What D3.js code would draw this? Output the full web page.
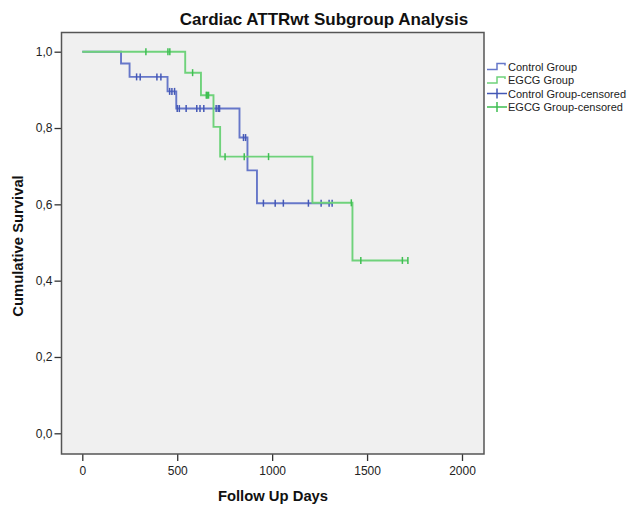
<!DOCTYPE html>
<html>
<head>
<meta charset="utf-8">
<script src="https://cdn.jsdelivr.net/npm/d3@7/dist/d3.min.js"></script>
<style>
  html, body { margin: 0; padding: 0; background: #ffffff; }
  svg { display: block; font-family: "Liberation Sans", Arial, sans-serif; }
</style>
</head>
<body>
<svg id="chart" width="630" height="505"></svg>
<script>
// ---------- data ----------
const title = "Cardiac ATTRwt Subgroup Analysis";
const xTitle = "Follow Up Days";
const yTitle = "Cumulative Survival";
const xTicks = [0, 500, 1000, 1500, 2000];
const yTicks = [0, 0.2, 0.4, 0.6, 0.8, 1.0];
const legendLabels = ["Control Group", "EGCG Group", "Control Group-censored", "EGCG Group-censored"];

// Control group step curve
const controlTimes = [0, 204, 249, 449, 495, 828, 870, 920];
const controlSurv  = [1, 0.969, 0.934, 0.896, 0.851, 0.775, 0.689, 0.603];
const controlEnd = 1316;
const controlCensored = [286, 305, 393, 414, 460, 472, 486, 500, 511, 547, 603, 620, 640, 705, 716, 723, 849, 860, 954, 1016, 1059, 1191, 1258, 1300, 1316];

// EGCG group step curve
const egcgTimes = [0, 542, 625, 691, 726, 1212, 1423];
const egcgSurv  = [1, 0.945, 0.886, 0.803, 0.725, 0.604, 0.453];
const egcgEnd = 1715;
const egcgCensored = [335, 451, 461, 581, 653, 658, 665, 752, 853, 981, 1417, 1467, 1686, 1715];

// ---------- layout ----------
const svg = d3.select("#chart");
const frame = {left: 61.5, right: 484, top: 32.5, bottom: 454};
const x = d3.scaleLinear().domain([0, 2000]).range([82.3, 462]);
const y = d3.scaleLinear().domain([0, 1]).range([433.3, 51.7]);

const colBlueLine = "#6677c9", colBlueMark = "#4458b6";
const colGreenLine = "#6fd27b", colGreenMark = "#3fbf52";

// title
svg.append("text").attr("x", 324).attr("y", 25).attr("text-anchor", "middle")
  .attr("font-size", 17).attr("font-weight", "bold").attr("fill", "#111").text(title);

// plot background
svg.append("rect").attr("x", frame.left).attr("y", frame.top)
  .attr("width", frame.right - frame.left).attr("height", frame.bottom - frame.top)
  .attr("fill", "#f0f0f0");

// axes
const xAxis = d3.axisBottom(x).tickValues(xTicks).tickSize(7).tickSizeOuter(0).tickFormat(d3.format("d"));
const gx = svg.append("g").attr("transform", `translate(0,${frame.bottom})`).call(xAxis);
gx.select(".domain").remove();
gx.selectAll("line").attr("stroke", "#333").attr("stroke-width", 1.3);
gx.selectAll("text").attr("font-size", 12).attr("fill", "#222").attr("dy", "0.9em")
  .attr("font-family", "Liberation Sans, Arial, sans-serif");

const yAxis = d3.axisLeft(y).tickValues(yTicks).tickSize(7).tickSizeOuter(0)
  .tickFormat(d => d3.format(".1f")(d).replace(".", ","));
const gy = svg.append("g").attr("transform", `translate(${frame.left},0)`).call(yAxis);
gy.select(".domain").remove();
gy.selectAll("line").attr("stroke", "#333").attr("stroke-width", 1.3);
gy.selectAll("text").attr("font-size", 12).attr("fill", "#222").attr("x", -9)
  .attr("font-family", "Liberation Sans, Arial, sans-serif");

// axis titles
svg.append("text").attr("x", 273).attr("y", 501).attr("text-anchor", "middle")
  .attr("font-size", 14.8).attr("font-weight", "bold").attr("fill", "#111").text(xTitle);
svg.append("text").attr("transform", "translate(23,246) rotate(-90)").attr("text-anchor", "middle")
  .attr("font-size", 14.8).attr("font-weight", "bold").attr("fill", "#111").text(yTitle);

// step curves
function stepPoints(times, surv, end) {
  const pts = [];
  for (let i = 0; i < times.length; i++) {
    if (i > 0) pts.push([times[i], surv[i - 1]]);
    pts.push([times[i], surv[i]]);
  }
  pts.push([end, surv[surv.length - 1]]);
  return pts;
}
function survAt(times, surv, t) {
  let s = surv[0];
  for (let i = 0; i < times.length; i++) if (times[i] <= t) s = surv[i];
  return s;
}
const line = d3.line().x(d => x(d[0])).y(d => y(d[1]));

function drawGroup(times, surv, end, cens, lineCol, markCol) {
  svg.append("path").datum(stepPoints(times, surv, end))
    .attr("d", line).attr("fill", "none").attr("stroke", lineCol).attr("stroke-width", 1.9);
  svg.append("g").selectAll("line").data(cens).join("line")
    .attr("x1", d => x(d)).attr("x2", d => x(d))
    .attr("y1", d => y(survAt(times, surv, d)) - 3.5)
    .attr("y2", d => y(survAt(times, surv, d)) + 3.5)
    .attr("stroke", markCol).attr("stroke-width", 1.5);
}
drawGroup(controlTimes, controlSurv, controlEnd, controlCensored, colBlueLine, colBlueMark);
drawGroup(egcgTimes, egcgSurv, egcgEnd, egcgCensored, colGreenLine, colGreenMark);

// frame
svg.append("rect").attr("x", frame.left).attr("y", frame.top)
  .attr("width", frame.right - frame.left).attr("height", frame.bottom - frame.top)
  .attr("fill", "none").attr("stroke", "#555").attr("stroke-width", 1.5);

// legend
const legRows = [66.5, 80, 93.5, 107];
const legCols = [colBlueLine, colGreenLine, colBlueMark, colGreenMark];
legendLabels.forEach((lab, i) => {
  const yy = legRows[i];
  if (i < 2) {
    svg.append("path")
      .attr("d", `M487,${yy + 3} H497 V${yy - 3} H505 V${yy - 1}`)
      .attr("fill", "none").attr("stroke", legCols[i]).attr("stroke-width", 1.5);
  } else {
    svg.append("path")
      .attr("d", `M487,${yy} H507 M497,${yy - 5} V${yy + 5}`)
      .attr("fill", "none").attr("stroke", legCols[i]).attr("stroke-width", 1.5);
  }
  svg.append("text").attr("x", 508).attr("y", yy + 4).attr("font-size", 11)
    .attr("fill", "#222").text(lab);
});
</script>
</body>
</html>
